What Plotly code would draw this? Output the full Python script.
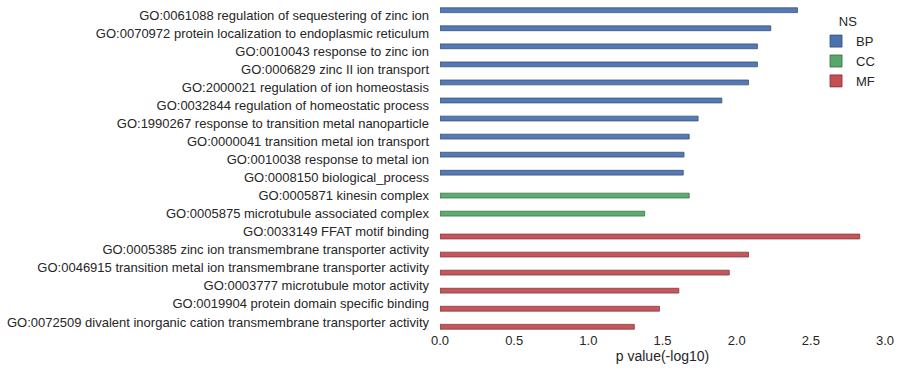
import plotly.graph_objects as go

terms = [
    "GO:0061088 regulation of sequestering of zinc ion",
    "GO:0070972 protein localization to endoplasmic reticulum",
    "GO:0010043 response to zinc ion",
    "GO:0006829 zinc II ion transport",
    "GO:2000021 regulation of ion homeostasis",
    "GO:0032844 regulation of homeostatic process",
    "GO:1990267 response to transition metal nanoparticle",
    "GO:0000041 transition metal ion transport",
    "GO:0010038 response to metal ion",
    "GO:0008150 biological_process",
    "GO:0005871 kinesin complex",
    "GO:0005875 microtubule associated complex",
    "GO:0033149 FFAT motif binding",
    "GO:0005385 zinc ion transmembrane transporter activity",
    "GO:0046915 transition metal ion transmembrane transporter activity",
    "GO:0003777 microtubule motor activity",
    "GO:0019904 protein domain specific binding",
    "GO:0072509 divalent inorganic cation transmembrane transporter activity",
]
ns = ["BP"] * 10 + ["CC"] * 2 + ["MF"] * 6
pvals = [2.41, 2.23, 2.14, 2.14, 2.08, 1.90, 1.74, 1.68, 1.645, 1.64,
         1.68, 1.38,
         2.83, 2.08, 1.95, 1.61, 1.48, 1.31]

groups = ["BP", "CC", "MF"]
colors = {"BP": "#4C72B0", "CC": "#55A868", "MF": "#C44E52"}
edges = {"BP": "#2f4a78", "CC": "#356b42", "MF": "#7f3033"}

fig = go.Figure()
for g in groups:
    xs = [p if n == g else None for p, n in zip(pvals, ns)]
    fig.add_trace(go.Bar(
        y=terms, x=xs, name=g, orientation="h",
        marker=dict(color=colors[g], opacity=0.95,
                    line=dict(color=edges[g], width=0.8)),
    ))

fig.update_layout(
    width=902, height=379,
    margin=dict(l=440, r=17, t=6, b=48, autoexpand=False),
    barmode="group", bargap=0.2, bargroupgap=0,
    plot_bgcolor="white", paper_bgcolor="white",
    font=dict(family="Liberation Sans, Arial, sans-serif", size=13, color="#262626"),
    legend=dict(
        title=dict(text="NS", side="top center", font=dict(size=13)),
        x=0.845, y=0.99, xanchor="left", yanchor="top",
        bgcolor="rgba(0,0,0,0)", font=dict(size=13),
        itemwidth=30, tracegroupgap=0,
    ),
    xaxis=dict(
        range=[0, 3.0], dtick=0.5, tickformat=".1f", showgrid=False,
        zeroline=False, showline=False, ticks="", automargin=False,
        title=dict(text="p value(-log10)", standoff=4, font=dict(size=14)),
    ),
    yaxis=dict(
        type="category", autorange="reversed", showgrid=False,
        zeroline=False, showline=False, ticks="", ticklabelstandoff=10,
        automargin=False,
    ),
)
fig.write_html("out.html", config={"displayModeBar": False},
               post_script="document.body.style.margin='0';document.body.style.padding='0';")
